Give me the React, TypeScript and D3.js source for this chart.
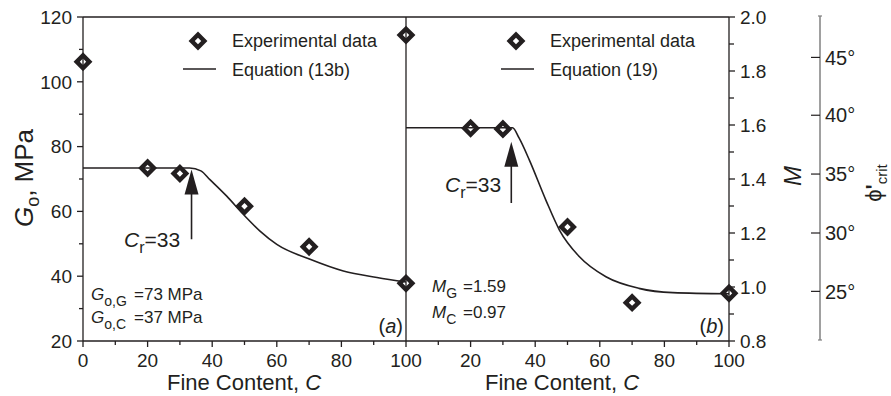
import React, { useEffect, useRef } from 'react';
import * as d3 from 'd3';

// measured points
const fineG = [0, 20, 30, 50, 70, 100];
const gMeasured = [106.2, 73.4, 71.7, 61.6, 49.1, 37.8];
const fineM = [0, 20, 30, 50, 70, 100];
const mMeasured = [1.933, 1.588, 1.585, 1.222, 0.942, 0.977];

// equation curves
const fineCurveG = [0, 33, 36.5, 39.3, 44.5, 49.6, 54.8, 60, 70.3, 80.6, 91, 100];
const gCurve = [73.4, 73.4, 72.5, 69.8, 64.7, 59.1, 53.9, 49.8, 45.2, 41.6, 39.6, 38.2];
const fineCurveM = [0, 33, 35, 38.2, 43.3, 47.5, 53.7, 61.9, 72.1, 82.6, 100];
const mCurve = [1.59, 1.59, 1.552, 1.47, 1.322, 1.211, 1.112, 1.038, 0.995, 0.979, 0.975];

// ticks
const xTicksLeft = [0, 20, 40, 60, 80, 100];
const xTicksRight = [20, 40, 60, 80, 100];
const xMinor = [10, 30, 50, 70, 90];
const gTicks = [20, 40, 60, 80, 100, 120];
const gMinor = [30, 50, 70, 90, 110];
const mTicks = [0.8, 1.0, 1.2, 1.4, 1.6, 1.8, 2.0];
const mMinor = [0.9, 1.1, 1.3, 1.5, 1.7, 1.9];
const phiTicks = [25, 30, 35, 40, 45];

const ink = '#231f20';
const font = '"Liberation Sans", Arial, sans-serif';

// M = 6 sin(phi) / (3 - sin(phi))
const phiToM = (p: number) => {
  const s = Math.sin((p * Math.PI) / 180);
  return (6 * s) / (3 - s);
};

const App = () => {
  const ref = useRef<SVGSVGElement>(null);
  const width = 891;
  const height = 396;

  useEffect(() => {
    const svg = d3.select(ref.current);
    svg.selectAll('*').remove();

    const xL = d3.scaleLinear().domain([0, 100]).range([83, 406]);
    const xR = d3.scaleLinear().domain([0, 100]).range([406, 729]);
    const yG = d3.scaleLinear().domain([20, 120]).range([341, 17]);
    const yM = d3.scaleLinear().domain([0.8, 2.0]).range([341, 17]);

    const g = svg.append('g').style('font-family', font).attr('fill', ink);

    // curves
    const lineG = d3.line<number>()
      .x((d, i) => xL(fineCurveG[i]))
      .y(d => yG(d))
      .curve(d3.curveMonotoneX);
    g.append('path')
      .attr('d', lineG(gCurve))
      .attr('fill', 'none')
      .attr('stroke', ink)
      .attr('stroke-width', 1.6);

    const lineM = d3.line<number>()
      .x((d, i) => xR(fineCurveM[i]))
      .y(d => yM(d))
      .curve(d3.curveMonotoneX);
    g.append('path')
      .attr('d', lineM(mCurve))
      .attr('fill', 'none')
      .attr('stroke', ink)
      .attr('stroke-width', 1.6);

    // frame
    const frame = g.append('g').attr('stroke', ink).attr('stroke-width', 1.3);
    frame.append('line').attr('x1', xL(0)).attr('x2', xR(100)).attr('y1', yG(120)).attr('y2', yG(120));
    frame.append('line').attr('x1', xL(0)).attr('x2', xR(100)).attr('y1', yG(20)).attr('y2', yG(20));
    frame.append('line').attr('x1', xL(0)).attr('x2', xL(0)).attr('y1', yG(20)).attr('y2', yG(120));
    frame.append('line').attr('x1', xL(100)).attr('x2', xL(100)).attr('y1', yG(20)).attr('y2', yG(120));
    frame.append('line').attr('x1', xR(100)).attr('x2', xR(100)).attr('y1', yM(0.8)).attr('y2', yM(2.0));

    // left y axis ticks
    gTicks.forEach(t => {
      frame.append('line').attr('x1', xL(0) - 6).attr('x2', xL(0)).attr('y1', yG(t)).attr('y2', yG(t));
      g.append('text')
        .attr('x', xL(0) - 11).attr('y', yG(t)).attr('dy', '0.36em')
        .attr('text-anchor', 'end').style('font-size', '19px')
        .text(t);
    });
    gMinor.forEach(t => {
      frame.append('line').attr('x1', xL(0) - 4).attr('x2', xL(0)).attr('y1', yG(t)).attr('y2', yG(t));
    });

    // right M axis ticks
    mTicks.forEach(t => {
      frame.append('line').attr('x1', xR(100)).attr('x2', xR(100) + 6).attr('y1', yM(t)).attr('y2', yM(t));
      g.append('text')
        .attr('x', xR(100) + 11).attr('y', yM(t)).attr('dy', '0.36em')
        .attr('text-anchor', 'start').style('font-size', '19px')
        .text(d3.format('.1f')(t));
    });
    mMinor.forEach(t => {
      frame.append('line').attr('x1', xR(100)).attr('x2', xR(100) + 5).attr('y1', yM(t)).attr('y2', yM(t));
    });

    // bottom axes
    const bottom = yG(20);
    xTicksLeft.forEach(t => {
      frame.append('line').attr('x1', xL(t)).attr('x2', xL(t)).attr('y1', bottom).attr('y2', bottom + 6);
      g.append('text').attr('x', xL(t)).attr('y', 367)
        .attr('text-anchor', 'middle').style('font-size', '19px').text(t);
    });
    xTicksRight.forEach(t => {
      frame.append('line').attr('x1', xR(t)).attr('x2', xR(t)).attr('y1', bottom).attr('y2', bottom + 6);
      g.append('text').attr('x', xR(t)).attr('y', 367)
        .attr('text-anchor', 'middle').style('font-size', '19px').text(t);
    });
    xMinor.forEach(t => {
      frame.append('line').attr('x1', xL(t)).attr('x2', xL(t)).attr('y1', bottom).attr('y2', bottom + 4);
      frame.append('line').attr('x1', xR(t)).attr('x2', xR(t)).attr('y1', bottom).attr('y2', bottom + 4);
    });

    // x titles
    [244, 562].forEach(cx => {
      const t = g.append('text').attr('x', cx).attr('y', 390)
        .attr('text-anchor', 'middle').style('font-size', '22px');
      t.append('tspan').text('Fine Content, ');
      t.append('tspan').style('font-style', 'italic').text('C');
    });

    // left y title
    const gt = g.append('text')
      .attr('transform', 'translate(33,178) rotate(-90)')
      .attr('text-anchor', 'middle').style('font-size', '26px');
    gt.append('tspan').style('font-style', 'italic').text('G');
    gt.append('tspan').attr('dy', 6).style('font-size', '18px').text('o');
    gt.append('tspan').attr('dy', -6).text(', MPa');

    // M title
    g.append('text')
      .attr('transform', 'translate(801,176) rotate(-90)')
      .attr('text-anchor', 'middle').style('font-size', '24px').style('font-style', 'italic')
      .text('M');

    // phi_crit axis
    const phiX = 820;
    const phi = g.append('g');
    phi.append('line').attr('x1', phiX).attr('x2', phiX).attr('y1', 16).attr('y2', 340)
      .attr('stroke', '#808080').attr('stroke-width', 1.5);
    [16, 340].forEach(y => {
      phi.append('line').attr('x1', phiX - 2).attr('x2', phiX + 2).attr('y1', y).attr('y2', y)
        .attr('stroke', '#808080').attr('stroke-width', 1.2);
    });
    phiTicks.forEach(p => {
      const y = yM(phiToM(p));
      phi.append('line').attr('x1', phiX - 9).attr('x2', phiX).attr('y1', y).attr('y2', y)
        .attr('stroke', ink).attr('stroke-width', 1.2);
      phi.append('text').attr('x', phiX + 5).attr('y', y).attr('dy', '0.36em')
        .style('font-size', '20px').text(`${p}°`);
    });
    const pt = g.append('text')
      .attr('transform', 'translate(881,183) rotate(-90)')
      .attr('text-anchor', 'middle').style('font-size', '22px');
    pt.append('tspan').text('ϕ');
    pt.append('tspan').style('font-weight', 'bold').text('\'');
    pt.append('tspan').attr('dy', 6).style('font-size', '15px').text('crit');

    // measured diamonds
    const diamond = d3.symbol().type(d3.symbolSquare).size(80)();
    const drawDiamond = (cx: number, cy: number) => {
      g.append('path')
        .attr('d', diamond)
        .attr('transform', `translate(${cx},${cy}) rotate(45)`)
        .attr('fill', 'none')
        .attr('stroke', ink)
        .attr('stroke-width', 4.4);
    };
    gMeasured.forEach((v, i) => drawDiamond(xL(fineG[i]), yG(v)));
    mMeasured.forEach((v, i) => drawDiamond(xR(fineM[i]), yM(v)));

    // legends
    const legend = (lx: number, label: string) => {
      drawDiamond(lx + 15, 41);
      g.append('line').attr('x1', lx).attr('x2', lx + 33).attr('y1', 69).attr('y2', 69)
        .attr('stroke', ink).attr('stroke-width', 1.6);
      g.append('text').attr('x', lx + 49).attr('y', 47).style('font-size', '18px').text('Experimental data');
      g.append('text').attr('x', lx + 49).attr('y', 76).style('font-size', '18px').text(label);
    };
    legend(183, 'Equation (13b)');
    legend(501, 'Equation (19)');

    // arrows with C_r
    const arrow = (ax: number, yTip: number, yEnd: number, tx: number, ty: number) => {
      g.append('line').attr('x1', ax).attr('x2', ax).attr('y1', yTip + 20).attr('y2', yEnd)
        .attr('stroke', ink).attr('stroke-width', 1.6);
      g.append('path')
        .attr('d', `M${ax},${yTip} L${ax - 7},${yTip + 25} L${ax + 7},${yTip + 25} Z`)
        .attr('fill', ink);
      const t = g.append('text').attr('x', tx).attr('y', ty).style('font-size', '21px');
      t.append('tspan').style('font-style', 'italic').text('C');
      t.append('tspan').attr('dy', 6).style('font-size', '16px').text('r');
      t.append('tspan').attr('dy', -6).text('=33');
    };
    arrow(xL(33.6), yG(72.9), yG(51.4), 124, 247);
    arrow(xR(32.6), yM(1.538), yM(1.311), 445, 192);

    // parameter notes
    const note = (nx: number, ny: number, sym: string, sub: string, val: string, vx: number) => {
      const t = g.append('text').attr('x', nx).attr('y', ny).style('font-size', '17px');
      t.append('tspan').style('font-style', 'italic').text(sym);
      t.append('tspan').attr('dy', 6).style('font-size', '14px').text(sub);
      g.append('text').attr('x', vx).attr('y', ny).style('font-size', '17px').text(val);
    };
    note(91, 300, 'G', 'o,G', '=73 MPa', 134);
    note(91, 323, 'G', 'o,C', '=37 MPa', 134);
    note(432, 292, 'M', 'G', '=1.59', 463);
    note(432, 318, 'M', 'C', '=0.97', 463);

    // panel tags
    const tag = (tx: number, letter: string) => {
      const t = g.append('text').attr('x', tx).attr('y', 333)
        .attr('text-anchor', 'end').style('font-size', '20px');
      t.append('tspan').text('(');
      t.append('tspan').style('font-style', 'italic').text(letter);
      t.append('tspan').text(')');
    };
    tag(403, 'a');
    tag(724, 'b');
  }, []);

  return (
    <svg
      ref={ref}
      width={width}
      height={height}
      viewBox={`0 0 ${width} ${height}`}
      style={{ position: 'absolute', left: 0, top: 0, background: '#fff' }}
    />
  );
};

export default App;
